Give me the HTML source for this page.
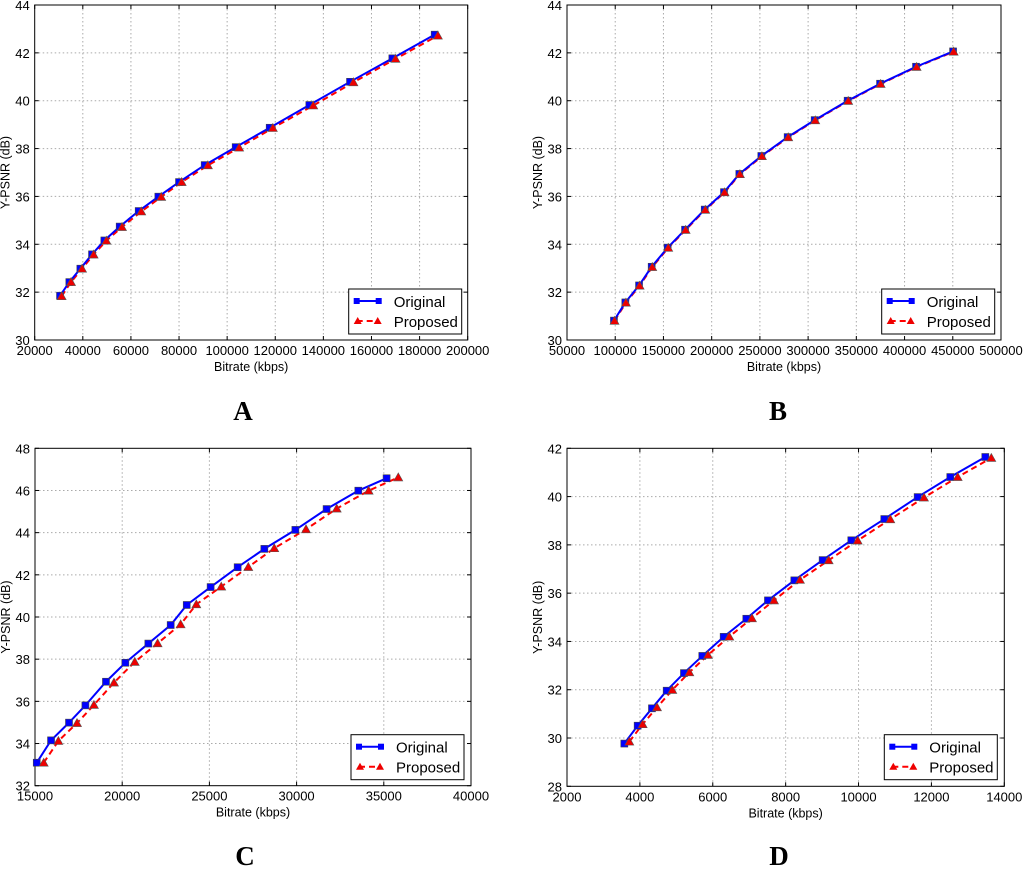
<!DOCTYPE html>
<html><head><meta charset="utf-8"><style>
body{margin:0;background:#fff;width:1024px;height:870px;overflow:hidden}
svg text{font-family:"Liberation Sans","DejaVu Sans",sans-serif}
.lbl{font-family:"Liberation Serif",serif !important;font-weight:bold;font-size:27px}
</style></head><body>
<svg id="chart" width="1024" height="870" xmlns="http://www.w3.org/2000/svg">
<text class="lbl" x="243" y="420" text-anchor="middle">A</text>
<text class="lbl" x="778" y="420" text-anchor="middle">B</text>
<text class="lbl" x="245" y="865" text-anchor="middle">C</text>
<text class="lbl" x="779" y="865" text-anchor="middle">D</text>
</svg>
<script>
const aOrigX=[30531,34411,38984,43834,48961,55335,63233,71409,80000,90670,103557,117690,134180,151086,168684,186282];
const aOrigY=[31.85,32.42,32.98,33.58,34.16,34.74,35.39,35.99,36.60,37.31,38.06,38.87,39.82,40.79,41.77,42.76];
const aPropX=[31200,35100,39700,44500,49800,56300,64300,72600,81100,92000,105000,119000,135800,152500,170000,187600];
const aPropY=[31.83,32.42,32.98,33.57,34.15,34.72,35.37,35.98,36.60,37.30,38.04,38.86,39.80,40.77,41.75,42.72];
const bOrigX=[98700,110500,124700,137800,154400,172400,192800,212800,228700,251500,278800,306800,341000,374600,411900,450300];
const bOrigY=[30.81,31.57,32.28,33.06,33.86,34.61,35.45,36.18,36.94,37.69,38.48,39.19,40.00,40.71,41.42,42.06];
const bPropX=[99300,111100,125300,138400,155000,173000,193400,213400,229300,252100,279400,307400,341600,375200,412500,450900];
const bPropY=[30.80,31.56,32.27,33.05,33.85,34.60,35.44,36.17,36.93,37.68,38.47,39.18,39.99,40.70,41.41,42.05];
const cOrigX=[15100,15920,16950,17890,19070,20180,21500,22780,23700,25070,26620,28150,29930,31720,33540,35160];
const cOrigY=[33.09,34.15,34.99,35.81,36.93,37.83,38.74,39.62,40.57,41.42,42.36,43.23,44.13,45.12,45.99,46.58];
const cPropX=[15500,16340,17410,18380,19530,20720,22030,23350,24250,25680,27230,28720,30540,32300,34130,35830];
const cPropY=[33.09,34.12,34.97,35.83,36.89,37.87,38.75,39.65,40.60,41.44,42.37,43.26,44.16,45.14,45.99,46.62];
const dOrigX=[3573,3939,4332,4735,5210,5713,6299,6921,7515,8238,9015,9802,10707,11622,12518,13479];
const dOrigY=[29.77,30.51,31.23,31.96,32.69,33.40,34.19,34.94,35.70,36.53,37.37,38.19,39.07,39.98,40.81,41.64];
const dPropX=[3710,4076,4470,4890,5357,5869,6454,7076,7680,8393,9180,9976,10872,11796,12720,13644];
const dPropY=[29.85,30.57,31.27,31.99,32.72,33.44,34.20,34.96,35.70,36.55,37.36,38.18,39.06,39.96,40.81,41.60];
const aXTicks=[20000,40000,60000,80000,100000,120000,140000,160000,180000,200000];
const aYTicks=[30,32,34,36,38,40,42,44];
const bXTicks=[50000,100000,150000,200000,250000,300000,350000,400000,450000,500000];
const bYTicks=[30,32,34,36,38,40,42,44];
const cXTicks=[15000,20000,25000,30000,35000,40000];
const cYTicks=[32,34,36,38,40,42,44,46,48];
const dXTicks=[2000,4000,6000,8000,10000,12000,14000];
const dYTicks=[28,30,32,34,36,38,40,42];

const NS="http://www.w3.org/2000/svg";
const svg=document.getElementById('chart');
function mk(tag,attrs,parent){const e=document.createElementNS(NS,tag);for(const k in attrs)e.setAttribute(k,attrs[k]);(parent||svg).appendChild(e);return e;}

function panel(id,L,R,T,B,xt,yt,ox,oy,px,py,leg){
  const g=mk('g',{});
  
  
  const x0=xt[0],x1=xt[xt.length-1],y0=yt[0],y1=yt[yt.length-1];
  const sx=v=>L+(v-x0)/(x1-x0)*(R-L);
  const sy=v=>B-(v-y0)/(y1-y0)*(B-T);
  mk('rect',{x:L,y:T,width:R-L,height:B-T,fill:'#fff'},g);
  xt.forEach(v=>{const X=sx(v);
    if(v!==x0&&v!==x1){const gl=mk('line',{x1:X,x2:X,y1:T,y2:B,stroke:'#aaa','stroke-dasharray':'1.5,2.5','stroke-width':1},g);
    }
    mk('line',{x1:X,x2:X,y1:B,y2:B-4,stroke:'#000'},g);mk('line',{x1:X,x2:X,y1:T,y2:T+4,stroke:'#000'},g);
    const t=mk('text',{x:X,y:B+15,'font-size':13,'text-anchor':'middle'},g);t.textContent=v;
    });
  yt.forEach(v=>{const Y=sy(v);
    if(v!==y0&&v!==y1){const gl=mk('line',{x1:L,x2:R,y1:Y,y2:Y,stroke:'#aaa','stroke-dasharray':'1.5,2.5','stroke-width':1},g);
    }
    mk('line',{x1:L,x2:L+4,y1:Y,y2:Y,stroke:'#000'},g);mk('line',{x1:R,x2:R-4,y1:Y,y2:Y,stroke:'#000'},g);
    const t=mk('text',{x:L-5,y:Y+5,'font-size':13,'text-anchor':'end'},g);t.textContent=v;
    });
  const fr=mk('rect',{x:L,y:T,width:R-L,height:B-T,fill:'none',stroke:'#000','stroke-width':1},g);
  
  const xtl=mk('text',{x:(L+R)/2,y:B+31,'font-size':12.5,'text-anchor':'middle'},g);xtl.textContent='Bitrate (kbps)';
  
  const ytl=mk('text',{x:0,y:0,'font-size':12.5,'text-anchor':'middle',transform:`translate(${L-25},${(T+B)/2}) rotate(-90)`},g);ytl.textContent='Y-PSNR (dB)';
  
  const pl=mk('polyline',{points:px.map((v,i)=>sx(v)+','+sy(py[i])).join(' '),fill:'none',stroke:'#f00','stroke-width':2,'stroke-dasharray':'6,4'},g);
  
  const ol=mk('polyline',{points:ox.map((v,i)=>sx(v)+','+sy(oy[i])).join(' '),fill:'none',stroke:'#00f','stroke-width':2},g);
  
  ox.forEach((v,i)=>{const X=sx(v),Y=sy(oy[i]);
    const m=mk('rect',{x:X-3.5,y:Y-3.5,width:7,height:7,fill:'#00f',stroke:'#444','stroke-width':0.6},g);
    });
  px.forEach((v,i)=>{const X=sx(v),Y=sy(py[i]);
    const m=mk('polygon',{points:`${X},${Y-4.5} ${X-4.5},${Y+3.5} ${X+4.5},${Y+3.5}`,fill:'#e00',stroke:'#555','stroke-width':0.6},g);
    });
  const [lx,ly]=leg;
  const lg=mk('g',{},g);
  
  mk('rect',{x:lx,y:ly,width:113,height:45,fill:'#fff',stroke:'#000','stroke-width':1},lg);
  mk('line',{x1:lx+8,x2:lx+30,y1:ly+12,y2:ly+12,stroke:'#00f','stroke-width':2},lg);
  mk('rect',{x:lx+5,y:ly+9,width:6,height:6,fill:'#00f'},lg);mk('rect',{x:lx+27,y:ly+9,width:6,height:6,fill:'#00f'},lg);
  const t1=mk('text',{x:lx+45,y:ly+18,'font-size':15},lg);t1.textContent='Original';
  
  mk('line',{x1:lx+8,x2:lx+30,y1:ly+32,y2:ly+32,stroke:'#f00','stroke-width':2,'stroke-dasharray':'6,4'},lg);
  mk('polygon',{points:`${lx+9},${ly+28} ${lx+5},${ly+35} ${lx+13},${ly+35}`,fill:'#e00'},lg);
  mk('polygon',{points:`${lx+29},${ly+28} ${lx+25},${ly+35} ${lx+33},${ly+35}`,fill:'#e00'},lg);
  const t2=mk('text',{x:lx+45,y:ly+38,'font-size':15},lg);t2.textContent='Proposed';
  
}
panel('a',34.7,467.7,5,340,aXTicks,aYTicks,aOrigX,aOrigY,aPropX,aPropY,[348.7,289]);
panel('b',567,1001,5,340,bXTicks,bYTicks,bOrigX,bOrigY,bPropX,bPropY,[881.7,289]);
panel('c',35,471,448.3,785.7,cXTicks,cYTicks,cOrigX,cOrigY,cPropX,cPropY,[351,734.7]);
panel('d',567,1004.3,448.3,786.3,dXTicks,dYTicks,dOrigX,dOrigY,dPropX,dPropY,[884.3,734.7]);
</script>
</body></html>
